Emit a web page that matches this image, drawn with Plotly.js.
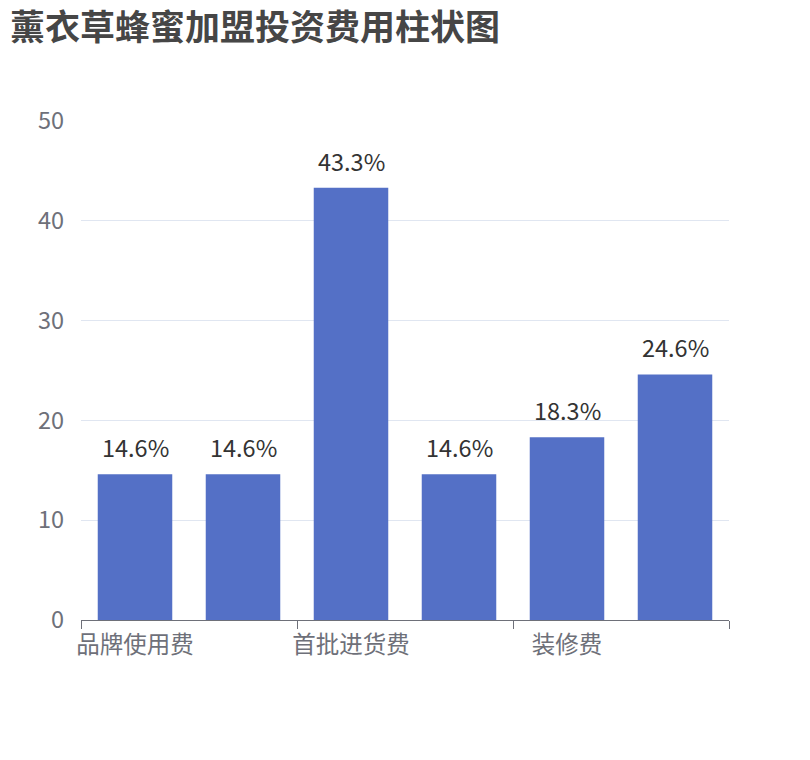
<!DOCTYPE html>
<html>
<head>
<meta charset="utf-8">
<script src="https://cdn.plot.ly/plotly-3.0.1.min.js"></script>
<style>
  html, body { margin: 0; padding: 0; background: #fff; }
  #chart { width: 810px; height: 760px; }
</style>
</head>
<body>
<div id="chart"></div>
<script>
// categories (only every other label is shown in the reference)
var categories = ['品牌使用费', '保证金', '首批进货费', '设备费', '装修费', '其他费用'];
var values = [14.6, 14.6, 43.3, 14.6, 18.3, 24.6];
var labels = ['14.6%', '14.6%', '43.3%', '14.6%', '18.3%', '24.6%'];
var yTicks = [0, 10, 20, 30, 40, 50];

var FONT = '"Noto Sans CJK SC", "Noto Sans", sans-serif';

var barTrace = {
  x: categories,
  y: values,
  type: 'bar',
  marker: { color: '#5470C6' },
  hoverinfo: 'x+y'
};

// value labels above the bars
var valueNotes = categories.map(function (c, i) {
  return {
    x: c,
    y: values[i],
    xref: 'x',
    yref: 'y',
    text: labels[i],
    showarrow: false,
    yanchor: 'bottom',
    yshift: 8,
    font: { family: FONT, size: 23.5, color: '#333333' }
  };
});

var layout = {
  width: 810,
  height: 760,
  paper_bgcolor: '#ffffff',
  plot_bgcolor: '#ffffff',
  margin: { l: 81, r: 81, t: 121, b: 140 },
  bargap: 0.31,
  showlegend: false,
  title: {
    text: '<b>薰衣草蜂蜜加盟投资费用柱状图</b>',
    font: { family: FONT, size: 35, color: '#464646' },
    x: 10 / 810,
    xanchor: 'left',
    xref: 'container',
    y: 1 - 28 / 760,
    yanchor: 'middle',
    yref: 'container'
  },
  annotations: valueNotes,
  xaxis: {
    type: 'category',
    tickmode: 'linear',
    tick0: 0,
    dtick: 2,
    tickson: 'boundaries',
    tickangle: 0,
    ticks: 'outside',
    ticklen: 8,
    tickcolor: '#6E7079',
    showline: true,
    linecolor: '#6E7079',
    linewidth: 1,
    showgrid: false,
    ticklabelstandoff: 4,
    tickfont: { family: FONT, size: 23.5, color: '#6E7079' },
    range: [-0.5, 5.5],
    fixedrange: true
  },
  yaxis: {
    range: [0, 50],
    tickvals: yTicks,
    showline: false,
    zeroline: false,
    gridcolor: '#E0E6F1',
    gridwidth: 1,
    ticks: '',
    ticklabelstandoff: 16,
    tickfont: { family: FONT, size: 23.5, color: '#6E7079' },
    fixedrange: true
  }
};

Plotly.newPlot('chart', [barTrace], layout, { displayModeBar: false, staticPlot: true });
</script>
</body>
</html>
